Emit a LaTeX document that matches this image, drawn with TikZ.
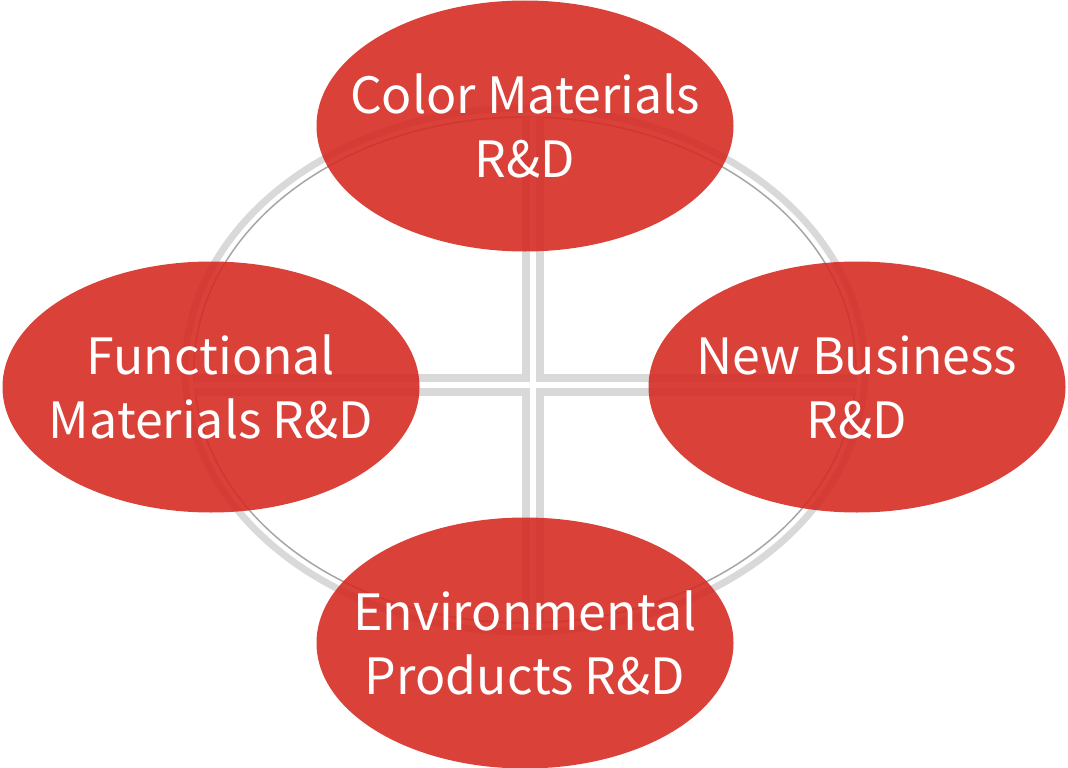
\documentclass[tikz,border=0pt]{standalone}
\usepackage{fontspec}
\newfontfamily\rdfont{Noto Sans CJK JP}
\usepackage{tikz}
\usetikzlibrary{shapes.geometric}
\definecolor{rdred}{RGB}{213,44,36}
\definecolor{ringgrey}{RGB}{217,217,217}
\definecolor{ringline}{RGB}{166,166,166}
\tikzstyle{rdarea} = [ellipse, fill=rdred, fill opacity=0.9, text opacity=1, text=white, minimum width=417pt, minimum height=251pt, inner xsep=-40pt, inner ysep=0pt, align=center, font=\rdfont\fontsize{50}{64}\selectfont]

\begin{document}
\begin{tikzpicture}[x=1pt, y=-1pt]
\useasboundingbox (0,0) rectangle (1068,768);

% ring and cross behind the areas
\draw[ringgrey, line width=7pt] (525,370) ellipse [x radius=340, y radius=262];
\draw[ringline, line width=1.5pt] (525,370) ellipse [x radius=331, y radius=253];
\coordinate (hl) at (194,385);
\coordinate (hr) at (856,385);
\coordinate (vt) at (533,117);
\coordinate (vb) at (533,623);
\draw[ringgrey, line width=21.5pt] (hl) -- (hr) (vt) -- (vb);
\draw[white, line width=6pt] (hl) -- (hr) (vt) -- (vb);

\node (color) [rdarea] at (525,126) {Color Materials\\R\&D};
\node (func) [rdarea] at (211,387) {Functional\\Materials R\&D};
\node (newbiz) [rdarea] at (857,387) {New Business\\R\&D};
\node (env) [rdarea] at (525,643) {Environmental\\Products R\&D};

\end{tikzpicture}
\end{document}
